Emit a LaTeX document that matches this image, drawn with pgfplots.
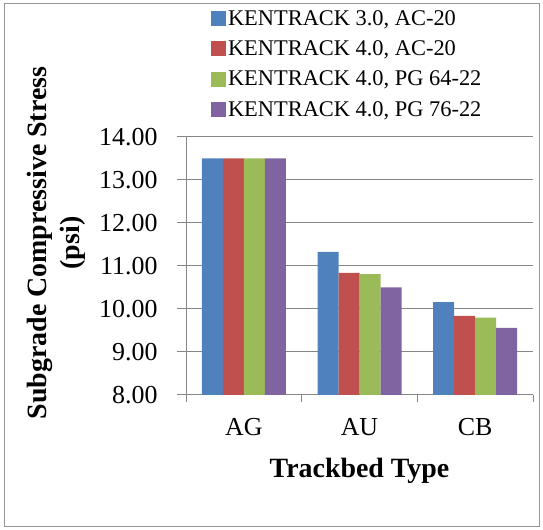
\documentclass[border=0pt]{standalone}
\usepackage{fontspec}
\setmainfont{Liberation Serif}
\usepackage{pgfplots}
\pgfplotsset{compat=1.18}
\definecolor{c1}{HTML}{4F81BD}
\definecolor{c2}{HTML}{C0504D}
\definecolor{c3}{HTML}{9BBB59}
\definecolor{c4}{HTML}{8064A2}
\definecolor{gridgray}{RGB}{134,134,134}
\definecolor{bordergray}{RGB}{150,150,150}
\begin{document}
\begin{tikzpicture}
\path[use as bounding box] (0bp,0bp) rectangle (543bp,530bp);
\draw[bordergray, line width=1bp] (4.5bp,3.5bp) rectangle (539.5bp,526.5bp);
\begin{axis}[
  at={(186bp,135bp)}, anchor=south west,
  scale only axis, width=347bp, height=258bp,
  xmin=-0.5, xmax=2.5, ymin=8, ymax=14,
  ytick={8,9,10,11,12,13,14},
  xtick={0,1,2}, xticklabels={AG,AU,CB},
  minor xtick={-0.5,0.5,1.5,2.5},
  axis x line*=bottom, axis y line*=left,
  axis line style={draw=gridgray, line width=1bp},
  tick align=outside,
  major tick length=9bp, minor tick length=7bp,
  major x tick style={draw=none},
  every tick/.style={draw=gridgray, line width=1bp},
  minor x tick style={draw=gridgray, line width=1bp},
  ymajorgrids, grid style={draw=gridgray, line width=1bp},
  ybar=0pt, bar width=21bp,
  /pgf/number format/assume math mode=true,
  yticklabel style={xshift=-16bp, /pgf/number format/.cd, fixed, fixed zerofill, precision=2},
  xticklabel style={yshift=-11bp},
  ticklabel style={font=\fontsize{26}{30}\selectfont},
  xlabel={Trackbed Type},
  xlabel style={yshift=-15bp, font=\fontsize{28}{32}\selectfont\bfseries},
  legend cell align=left,
  legend style={at={(0.063,1.508)}, anchor=north west, draw=none, fill=none,
    font=\fontsize{22.5}{27}\selectfont, row sep=10bp},
  legend image code/.code={\fill[#1] (0bp,-7.5bp) rectangle (15bp,7.5bp);},
]
\addplot[fill=c1, draw=none] coordinates {(0,13.50) (1,11.33) (2,10.16)};
\addplot[fill=c2, draw=none] coordinates {(0,13.50) (1,10.84) (2,9.84)};
\addplot[fill=c3, draw=none] coordinates {(0,13.50) (1,10.81) (2,9.80)};
\addplot[fill=c4, draw=none] coordinates {(0,13.50) (1,10.50) (2,9.56)};
\legend{KENTRACK 3.0{,} AC-20, KENTRACK 4.0{,} AC-20, KENTRACK 4.0{,} PG 64-22, KENTRACK 4.0{,} PG 76-22}
\end{axis}
\node[rotate=90, font=\fontsize{28}{32}\selectfont\bfseries] at (40bp,287bp) {Subgrade Compressive Stress};
\node[rotate=90, font=\fontsize{28}{32}\selectfont\bfseries] at (73bp,287bp) {(psi)};
\end{tikzpicture}
\end{document}
